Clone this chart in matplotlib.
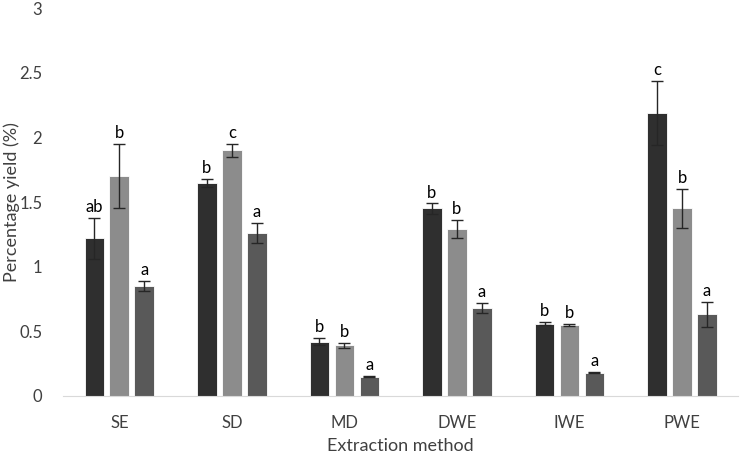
import matplotlib.pyplot as plt
import numpy as np

plt.rcParams.update({
    "font.family": ["Lato", "DejaVu Sans"],
    "font.size": 12,
})

methods = ["SE", "SD", "MD", "DWE", "IWE", "PWE"]
series1 = [1.22, 1.65, 0.42, 1.45, 0.56, 2.19]
series2 = [1.70, 1.90, 0.39, 1.29, 0.55, 1.45]
series3 = [0.85, 1.26, 0.15, 0.68, 0.18, 0.63]
err1 = [0.16, 0.03, 0.03, 0.04, 0.01, 0.25]
err2 = [0.25, 0.05, 0.02, 0.07, 0.01, 0.15]
err3 = [0.04, 0.08, 0.005, 0.04, 0.003, 0.10]
letters1 = ["ab", "b", "b", "b", "b", "c"]
letters2 = ["b", "c", "b", "b", "b", "b"]
letters3 = ["a", "a", "a", "a", "a", "a"]

colors = ["#2f2f2f", "#8c8c8c", "#595959"]

fig = plt.figure(figsize=(7.42, 4.54), dpi=100)
ax = fig.add_axes([0.085, 0.128, 0.91, 0.854])

x = np.arange(len(methods))
w = 0.175
step = 0.222
data = [(series1, err1, letters1), (series2, err2, letters2), (series3, err3, letters3)]
for i, (vals, errs, lets) in enumerate(data):
    pos = x + (i - 1) * step
    ax.bar(pos, vals, w, color=colors[i], edgecolor="white", linewidth=0.6, zorder=2)
    ax.errorbar(pos, vals, yerr=errs, fmt="none", ecolor="#262626", elinewidth=1,
                capsize=4, capthick=1, zorder=3)
    for p, v, e, t in zip(pos, vals, errs, lets):
        ax.text(p, v + e + 0.045, t, ha="center", va="baseline", fontsize=12, color="#000000")

ax.set_xlim(-0.5, 5.5)
ax.set_ylim(0, 3)
ax.set_yticks([0, 0.5, 1, 1.5, 2, 2.5, 3])
ax.set_yticklabels(["0", "0.5", "1", "1.5", "2", "2.5", "3"])
ax.set_xticks(x)
ax.set_xticklabels(methods)
ax.tick_params(axis="both", length=0, colors="#404040", labelsize=12)
ax.tick_params(axis="y", pad=15)
ax.tick_params(axis="x", pad=14)
for s in ["top", "right", "left"]:
    ax.spines[s].set_visible(False)
ax.spines["bottom"].set_color("#d9d9d9")
ax.set_xlabel("Extraction method", fontsize=13, color="#404040")
ax.set_ylabel("Percentage yield (%)", fontsize=13, color="#404040")
ax.xaxis.label.set_va("center")
ax.yaxis.label.set_va("center")
ax.xaxis.set_label_coords(0.5, -0.129)
ax.yaxis.set_label_coords(-0.076, 0.5)

fig.savefig("out.png", dpi=100)
